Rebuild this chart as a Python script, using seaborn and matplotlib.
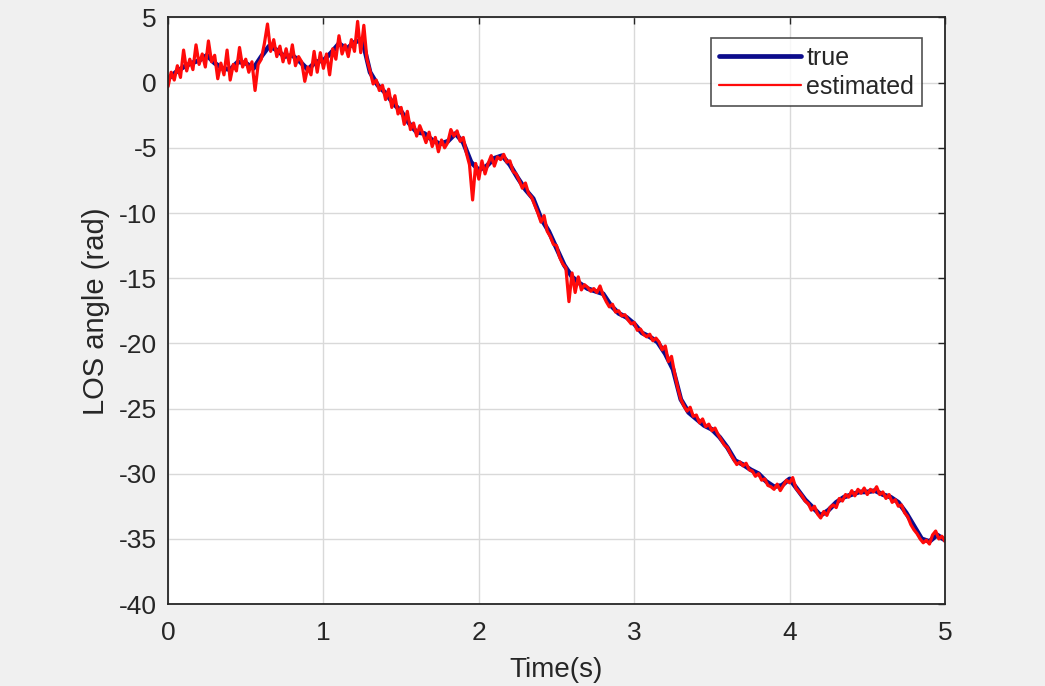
import numpy as np
import pandas as pd
import seaborn as sns
import matplotlib.pyplot as plt

# LOS angle (rad), sampled every 0.05 s from 0 to 5 s
true_angle = [
    0.3, 0.8, 1.2, 1.5, 1.7, 2.1, 1.5, 1.1, 1.0, 1.6,
    1.5, 1.1, 2.0, 2.8, 2.5, 2.0, 2.1, 1.6, 1.0, 1.6,
    1.7, 2.3, 3.0, 2.6, 3.1, 3.3, 0.8, -0.2, -0.8, -1.6,
    -2.2, -3.1, -3.8, -3.9, -4.4, -4.7, -4.5, -3.9, -4.6, -6.1,
    -6.7, -6.4, -5.8, -5.6, -6.3, -7.3, -8.2, -8.9, -10.4, -11.4,
    -12.7, -14.0, -14.9, -15.4, -15.8, -16.0, -16.2, -17.1, -17.7, -18.0,
    -18.5, -19.2, -19.5, -19.9, -20.8, -22.0, -24.3, -25.3, -25.8, -26.3,
    -26.6, -27.2, -28.0, -29.0, -29.3, -29.7, -30.0, -30.6, -31.0, -30.9,
    -30.4, -31.2, -32.0, -32.6, -33.2, -32.8, -32.2, -31.8, -31.6, -31.4,
    -31.4, -31.3, -31.6, -31.8, -32.2, -33.0, -34.0, -35.0, -35.2, -34.7,
    -35.1,
]

# estimated LOS angle (rad), sampled every 0.02 s from 0 to 5 s
est_angle = [
    -0.3, 0.8, 0.2, 1.3, 0.4, 2.5, 0.9, 1.8, 1.0, 2.9,
    1.4, 2.2, 1.2, 3.2, 1.6, 2.1, 0.3, 1.5, 0.6, 2.5,
    0.2, 1.4, 0.9, 2.7, 1.2, 1.8, 0.8, 1.6, -0.6, 1.4,
    1.8, 3.0, 4.5, 2.4, 3.3, 2.0, 2.8, 1.6, 2.6, 1.5,
    2.9, 1.3, 2.0, 1.6, 0.1, 1.2, 0.6, 2.4, 0.8, 2.3,
    1.1, 2.2, 0.6, 2.6, 1.8, 3.6, 2.2, 2.9, 2.0, 3.3,
    2.4, 4.7, 2.3, 4.4, 1.8, 0.9, -0.1, 0.2, -0.6, -0.2,
    -1.3, -0.5, -1.9, -1.0, -2.4, -1.9, -3.2, -2.2, -3.6, -3.1,
    -4.1, -3.3, -3.9, -4.6, -3.8, -4.9, -4.2, -5.3, -4.4, -5.0,
    -4.6, -3.6, -4.1, -3.7, -4.5, -4.2, -5.4, -6.3, -9.0, -6.2,
    -7.4, -6.0, -7.0, -6.2, -5.6, -6.4, -5.7, -5.9, -5.5, -6.1,
    -6.0, -6.8, -7.0, -7.5, -8.1, -7.7, -8.5, -8.8, -9.4, -10.0,
    -10.7, -10.2, -11.4, -11.8, -12.4, -12.5, -13.4, -13.9, -14.2, -16.8,
    -14.6, -16.1, -14.9, -15.9, -15.5, -15.7, -16.0, -15.8, -16.1, -15.6,
    -16.3, -16.8, -17.2, -17.0, -17.6, -17.5, -17.9, -17.8, -18.2, -18.5,
    -18.4, -19.0, -18.9, -19.3, -19.5, -19.3, -19.8, -19.6, -19.9, -20.5,
    -20.2, -21.4, -21.0, -22.3, -23.4, -24.3, -24.8, -25.2, -24.9, -25.6,
    -25.5, -26.1, -25.8, -26.4, -26.2, -26.7, -26.5, -27.0, -27.4, -27.8,
    -28.0, -28.5, -28.9, -29.3, -29.1, -29.4, -29.2, -29.7, -29.8, -30.2,
    -30.0, -30.5, -30.4, -30.9, -31.0, -31.2, -30.8, -31.3, -30.9, -30.5,
    -30.7, -30.3, -31.1, -31.4, -31.7, -32.1, -32.3, -32.8, -32.5, -33.1,
    -33.4, -32.9, -33.2, -32.6, -32.4, -32.6, -31.9, -32.1, -31.6, -31.8,
    -31.3, -31.7, -31.2, -31.5, -31.1, -31.6, -31.2, -31.4, -31.0, -31.6,
    -31.4, -31.9, -31.6, -32.2, -32.0, -32.5, -32.4, -33.0, -33.3, -33.9,
    -34.3, -34.6, -35.0, -35.3, -35.1, -35.4, -34.7, -34.4, -35.0, -34.8,
    -35.2,
]

x_ticks = [0, 1, 2, 3, 4, 5]
y_ticks = [-40, -35, -30, -25, -20, -15, -10, -5, 0, 5]

df_true = pd.DataFrame({"t": np.linspace(0, 5, len(true_angle)), "angle": true_angle})
df_est = pd.DataFrame({"t": np.linspace(0, 5, len(est_angle)), "angle": est_angle})

sns.set_style("white")
plt.rcParams["font.family"] = ["Liberation Sans", "DejaVu Sans"]
dark = "#262626"

fig = plt.figure(figsize=(10.45, 6.86), dpi=100, facecolor="#f0f0f0")
ax = fig.add_axes([0.1608, 0.1195, 0.7435, 0.855])
ax.set_facecolor("white")

sns.lineplot(data=df_true, x="t", y="angle", color="#0c0c8c", lw=3.4,
             label="true", estimator=None, sort=False, ax=ax)
sns.lineplot(data=df_est, x="t", y="angle", color="#ff0a0a", lw=2.3,
             label="estimated", estimator=None, sort=False, ax=ax)

ax.set_xlim(0, 5)
ax.set_ylim(-40, 5)
ax.set_xticks(x_ticks)
ax.set_yticks(y_ticks)
ax.set_xticklabels([str(v) for v in x_ticks], fontsize=19, color=dark)
ax.set_yticklabels([str(v) for v in y_ticks], fontsize=19, color=dark)
ax.tick_params(direction="in", length=5, width=1, colors=dark,
               top=True, right=True)
ax.tick_params(axis="x", pad=12)
ax.tick_params(axis="y", pad=8)

ax.grid(True, color="#d9d9d9", lw=1.0)
ax.set_axisbelow(True)
for s in ax.spines.values():
    s.set_color(dark)
    s.set_linewidth(1.3)

ax.set_xlabel("Time(s)", fontsize=20, color=dark, labelpad=9)
ax.set_ylabel("LOS angle (rad)", fontsize=21, color=dark, labelpad=6)

leg = ax.legend(loc="upper right", bbox_to_anchor=(0.970, 0.965), borderaxespad=0,
                fancybox=False, frameon=True, edgecolor=dark, fontsize=18,
                handlelength=3.3, handletextpad=0.2, borderpad=0.3, labelspacing=0.2)
leg.get_frame().set_linewidth(1.2)
leg.get_lines()[1].set_linewidth(1.6)

fig.savefig("out.png", dpi=100, facecolor=fig.get_facecolor())
